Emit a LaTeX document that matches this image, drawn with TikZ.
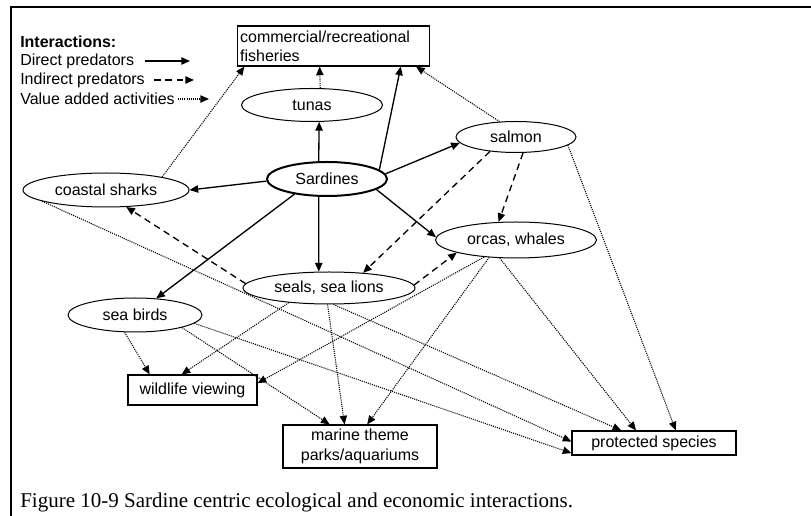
\documentclass[tikz,border=0pt]{standalone}
\usepackage{fontspec}
\setmainfont{Liberation Serif}
\setsansfont{Liberation Sans}
\usetikzlibrary{shapes.geometric, arrows.meta}

\begin{document}
\begin{tikzpicture}[
        x=0.75pt, y=-0.75pt,
        >={Triangle[length=6.5pt, width=5.5pt]},
        font=\sffamily\fontsize{12}{14.5}\selectfont,
        species/.style={ellipse, draw, fill=white, inner sep=0pt, line width=0.75pt},
        activity/.style={rectangle, draw, fill=white, inner sep=2pt, line width=0.85pt},
        keytext/.style={anchor=west, inner sep=0pt},
        direct/.style={->, line width=1pt},
        indirect/.style={->, line width=1pt, dash pattern=on 5pt off 3.5pt},
        value/.style={->, line width=0.8pt, dash pattern=on 0.8pt off 0.8pt}
    ]
        \useasboundingbox (0,0) rectangle (811,516);

        % frame
        \draw[line width=1.6pt] (811,7) -- (11,7) -- (11,516);

        % key
        \node[keytext, font=\sffamily\bfseries\fontsize{12}{14.5}\selectfont] (keyhead) at (20,42) {Interactions:};
        \node[keytext] (keydirect) at (20,61) {Direct predators};
        \node[keytext] (keyindirect) at (20,80) {Indirect predators};
        \node[keytext] (keyvalue) at (20,99) {Value added activities};
        \coordinate (d1) at (145,61);
        \coordinate (d2) at (190,61);
        \coordinate (i1) at (154,80);
        \coordinate (i2) at (194,80);
        \coordinate (v1) at (178,99);
        \coordinate (v2) at (209,99);
        \draw[direct] (d1) -- (d2);
        \draw[indirect] (i1) -- (i2);
        \draw[value] (v1) -- (v2);

        % activities
        \node[activity, text width=140pt, align=left, minimum height=30pt] (fish) at (333.5,46) {commercial/recreational\\fisheries};
        \node[activity, minimum width=96.75pt, minimum height=22.5pt] (wild) at (192.5,390) {wildlife viewing};
        \node[activity, align=center, minimum width=115.5pt, minimum height=32.25pt] (marine) at (360,446.5) {marine theme\\parks/aquariums};
        \node[activity, minimum width=123pt, minimum height=18pt] (prot) at (654,443) {protected species};

        % species
        \node[species, minimum width=105.75pt, minimum height=24.75pt] (tunas) at (312,105) {tunas};
        \node[species, minimum width=90pt, minimum height=23.25pt] (salmon) at (516,137) {salmon};
        \node[species, line width=1.5pt, minimum width=90pt, minimum height=25.5pt] (sardines) at (327,179) {Sardines};
        \node[species, minimum width=124.5pt, minimum height=25.5pt] (sharks) at (106,190) {coastal sharks};
        \node[species, minimum width=120.75pt, minimum height=27pt] (orcas) at (516,240) {orcas, whales};
        \node[species, minimum width=129pt, minimum height=24pt] (seals) at (329,288) {seals, sea lions};
        \node[species, minimum width=100.5pt, minimum height=25.5pt] (birds) at (135,315) {sea birds};

        % direct predators
        \draw[direct] (sardines.115) -- (tunas.293);
        \draw[direct] (sardines.10) -- (fish.343);
        \draw[direct] (sardines.5) -- (salmon.186);
        \draw[direct] (sardines.182) -- (sharks.east);
        \draw[direct] (sardines.245) -- (seals.122);
        \draw[direct] (sardines.205) -- (birds.38);
        \draw[direct] (sardines.348) -- (orcas.178);

        % indirect predators
        \draw[indirect] (salmon.209) -- (seals.24);
        \draw[indirect] (salmon.294) -- (orcas.134);
        \draw[indirect] (seals.177) -- (sharks.320);
        \draw[indirect] (seals.2) -- (orcas.192);

        % value added
        \draw[value] (tunas.64) -- (fish.236);
        \draw[value] (salmon.137) -- (fish.346);
        \draw[value] (sharks.13) -- (fish.193);
        \draw[value] (sharks.190) -- (prot.179);
        \draw[value] (birds.352) -- (prot.187);
        \draw[value] (seals.285) -- (prot.159);
        \draw[value] (orcas.228) -- (prot.145);
        \draw[value] (salmon.351) -- (prot.30);
        \draw[value] (birds.239) -- (wild.160);
        \draw[value] (seals.200) -- (wild.125);
        \draw[value] (orcas.208) -- (wild.6);
        \draw[value] (birds.345) -- (marine.144);
        \draw[value] (seals.265) -- (marine.125);
        \draw[value] (orcas.213) -- (marine.72);

        % caption
        \node[anchor=base west, inner sep=0pt, font=\rmfamily\fontsize{15.75}{18}\selectfont] (caption) at (20,508) {Figure 10-9 Sardine centric ecological and economic interactions.};
    \end{tikzpicture}
\end{document}
